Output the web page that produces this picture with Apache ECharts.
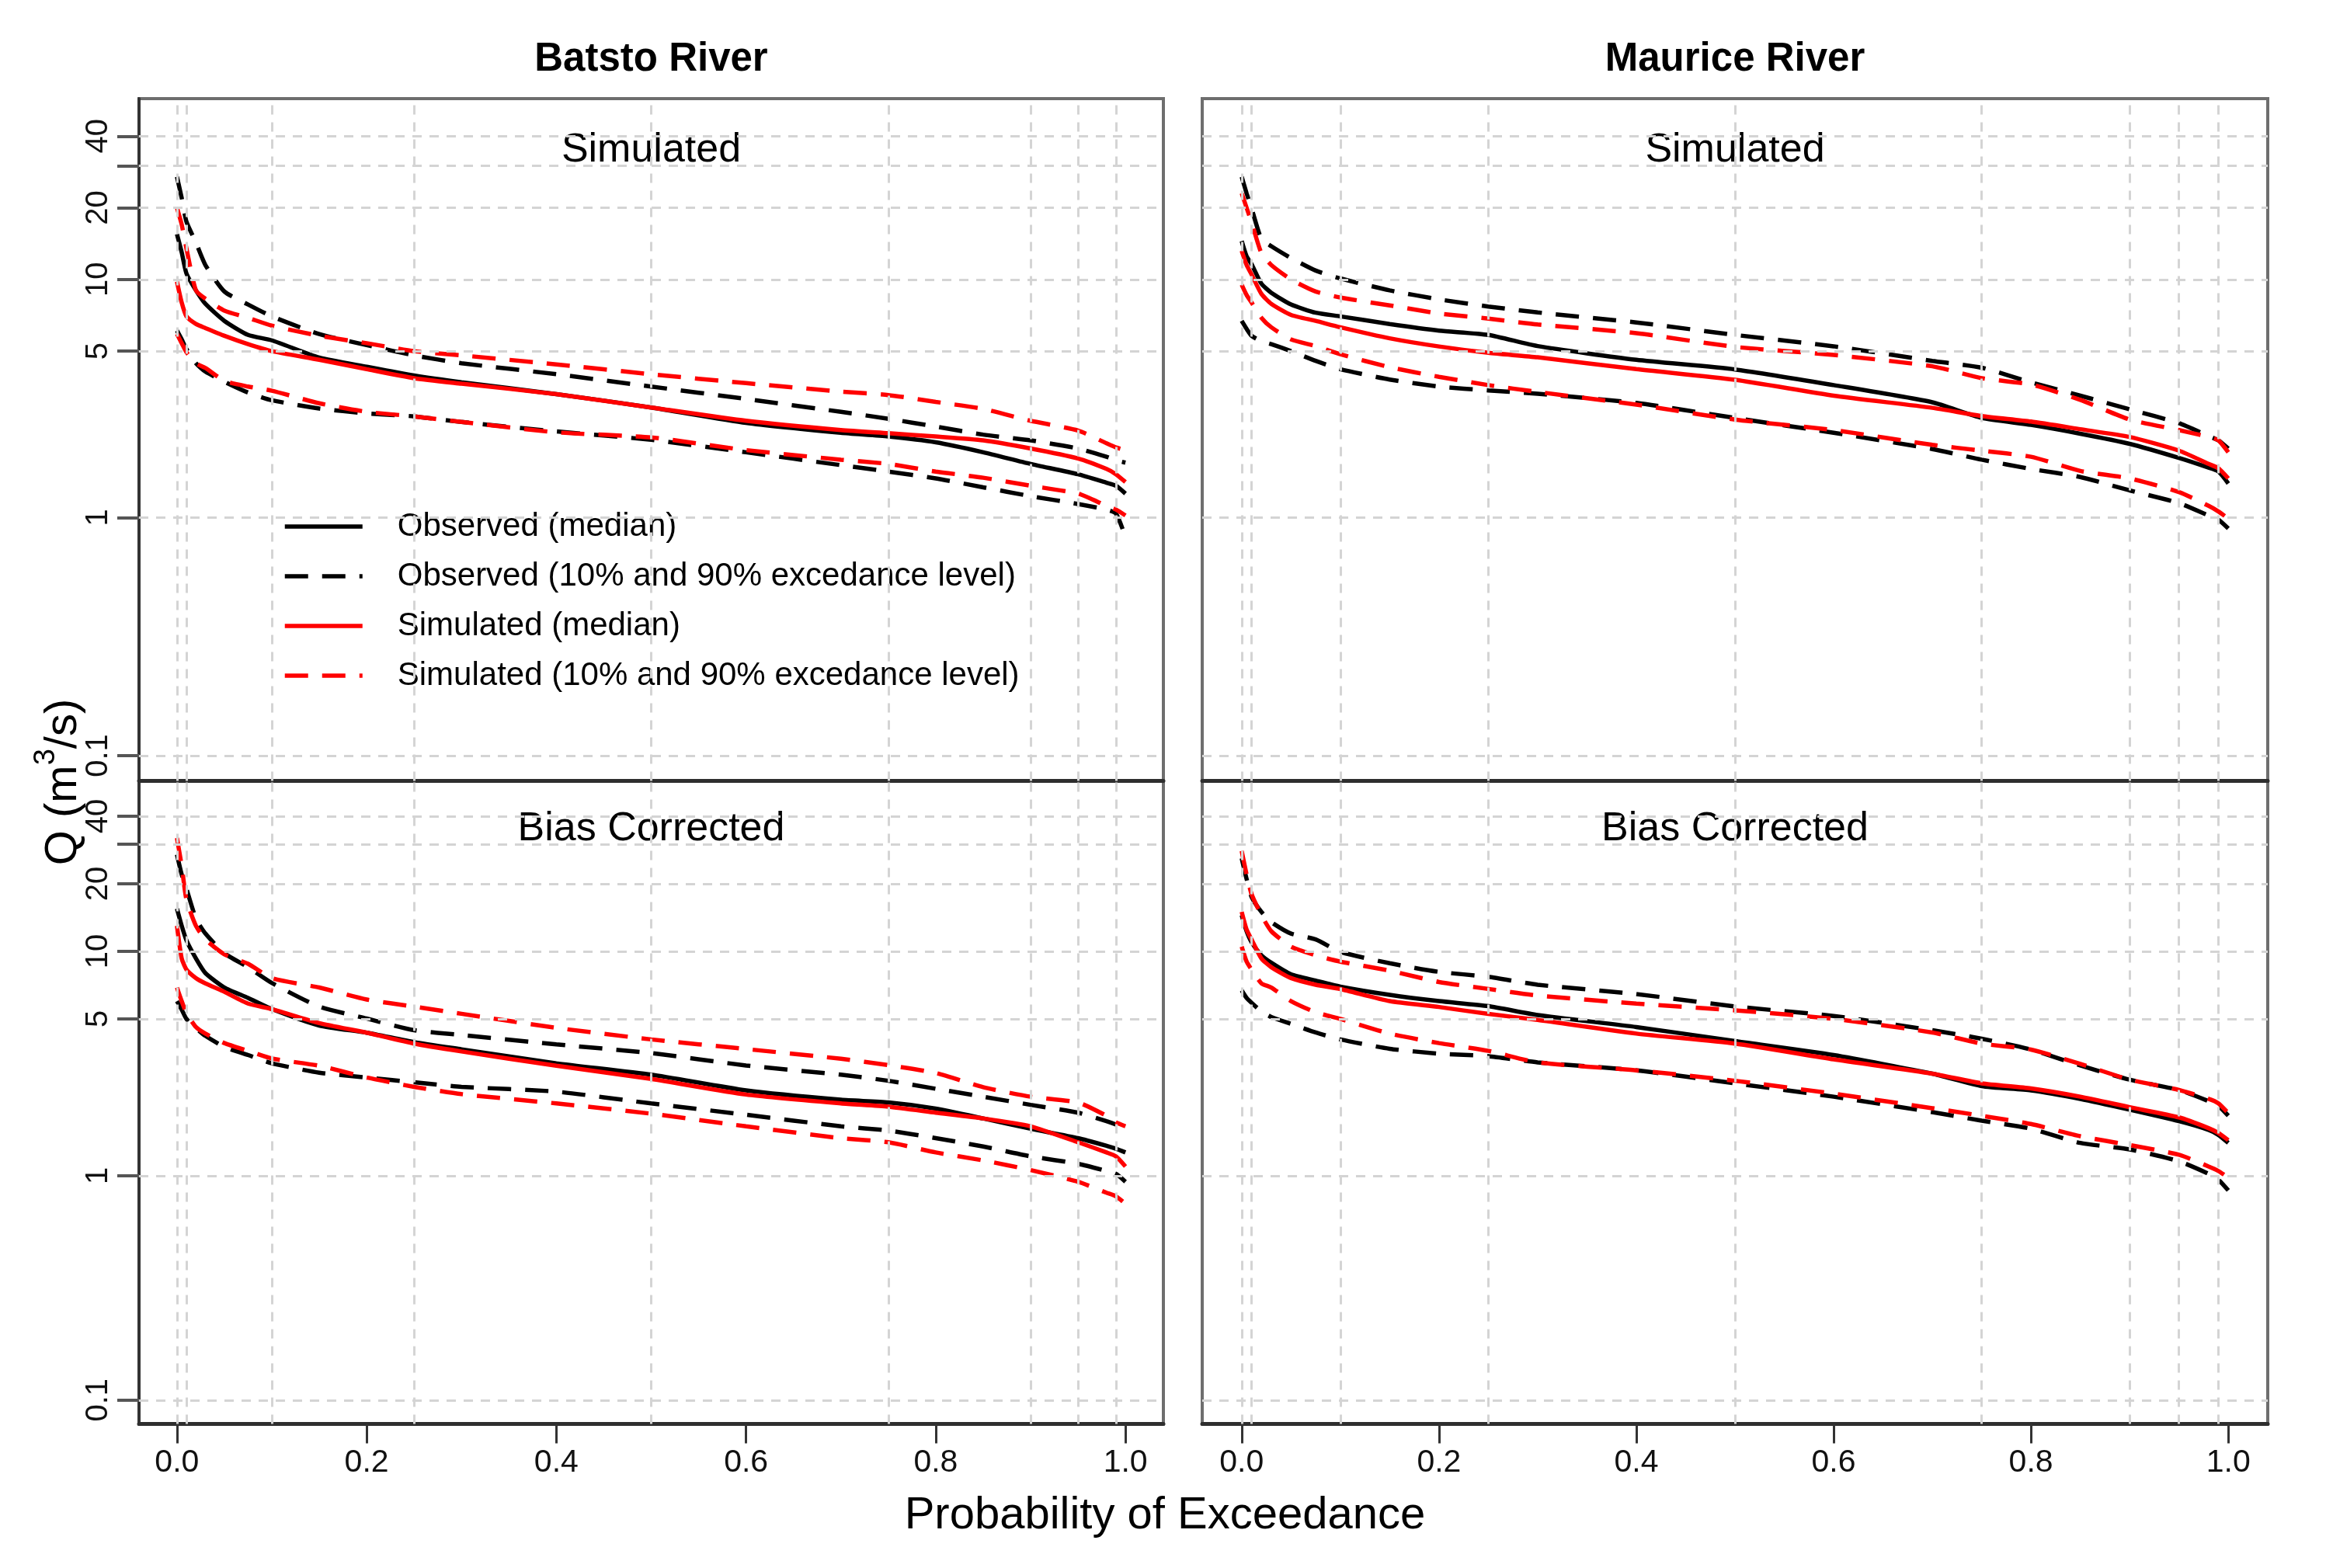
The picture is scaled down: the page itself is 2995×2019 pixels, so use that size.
<!DOCTYPE html>
<html><head><meta charset="utf-8">
<script src="https://cdn.jsdelivr.net/npm/echarts@6/dist/echarts.min.js"></script>
<style>html,body{margin:0;padding:0;background:#fff}#c{width:2995px;height:2019px}</style>
</head><body><div id="c"></div><script>
// Exceedance probabilities (x)
const P = [0, 0.005, 0.01, 0.02, 0.03, 0.05, 0.075, 0.1, 0.15, 0.2, 0.25, 0.3, 0.4, 0.5, 0.6, 0.7, 0.75, 0.8, 0.85, 0.9, 0.95, 0.98, 0.99, 1.0];

// Batsto River - Simulated
const batstoSimObsMed = [15.5, 13, 10.6, 9.0, 7.9, 6.7, 5.85, 5.55, 4.7, 4.3, 3.95, 3.7, 3.3, 2.9, 2.5, 2.27, 2.19, 2.07, 1.88, 1.68, 1.52, 1.40, 1.36, 1.26];
const batstoSimObsUp  = [27, 22, 17.5, 14.3, 11.5, 8.9, 7.85, 7.0, 5.9, 5.3, 4.8, 4.45, 4.0, 3.55, 3.15, 2.78, 2.6, 2.41, 2.23, 2.11, 1.95, 1.8, 1.74, 1.7];
const batstoSimObsLow = [6.1, 5.6, 5.1, 4.45, 4.1, 3.72, 3.35, 3.11, 2.87, 2.74, 2.66, 2.52, 2.3, 2.12, 1.88, 1.66, 1.56, 1.46, 1.34, 1.23, 1.14, 1.08, 1.04, 0.83];
const batstoSimSimMed = [9.8, 8.0, 7.0, 6.5, 6.25, 5.8, 5.35, 5.0, 4.6, 4.2, 3.85, 3.65, 3.3, 2.9, 2.55, 2.33, 2.26, 2.19, 2.11, 1.95, 1.77, 1.6, 1.52, 1.41];
const batstoSimSimUp  = [20, 17, 13.5, 9.0, 8.3, 7.4, 6.9, 6.4, 5.8, 5.4, 5.0, 4.8, 4.4, 4.0, 3.67, 3.38, 3.27, 3.06, 2.86, 2.55, 2.32, 2.05, 1.97, 1.92];
const batstoSimSimLow = [5.9, 5.4, 4.95, 4.45, 4.25, 3.75, 3.55, 3.41, 3.02, 2.78, 2.66, 2.52, 2.28, 2.17, 1.92, 1.75, 1.68, 1.56, 1.47, 1.36, 1.26, 1.12, 1.08, 1.02];

// Batsto River - Bias Corrected
const batstoBcObsMed = [15.5, 13, 11.2, 9.3, 8.0, 6.9, 6.2, 5.53, 4.67, 4.34, 3.94, 3.66, 3.17, 2.82, 2.4, 2.18, 2.12, 1.99, 1.8, 1.62, 1.47, 1.36, 1.32, 1.27];
const batstoBcObsUp  = [27, 22, 19, 14, 12, 9.8, 8.5, 7.23, 5.67, 5.02, 4.45, 4.24, 3.85, 3.52, 3.1, 2.82, 2.65, 2.44, 2.25, 2.07, 1.91, 1.75, 1.69, 1.62];
const batstoBcObsLow = [6.0, 5.5, 5.0, 4.55, 4.2, 3.75, 3.45, 3.17, 2.88, 2.74, 2.61, 2.49, 2.37, 2.1, 1.87, 1.66, 1.59, 1.47, 1.35, 1.22, 1.13, 1.05, 1.02, 0.94];
const batstoBcSimMed = [13, 9.3, 8.3, 7.6, 7.2, 6.6, 5.85, 5.53, 4.79, 4.34, 3.88, 3.58, 3.09, 2.7, 2.3, 2.1, 2.03, 1.91, 1.8, 1.66, 1.41, 1.27, 1.22, 1.10];
const batstoBcSimUp  = [32, 24, 17, 13, 11.3, 9.7, 8.8, 7.6, 6.9, 6.1, 5.67, 5.27, 4.56, 4.05, 3.67, 3.32, 3.11, 2.87, 2.48, 2.25, 2.12, 1.85, 1.73, 1.66];
const batstoBcSimLow = [6.9, 6.0, 5.3, 4.6, 4.3, 3.9, 3.6, 3.33, 3.09, 2.74, 2.49, 2.31, 2.1, 1.89, 1.66, 1.47, 1.41, 1.27, 1.17, 1.06, 0.94, 0.84, 0.81, 0.75];

// Maurice River - Simulated
const mauriceSimObsMed = [14.5, 12.5, 11.6, 9.6, 8.8, 7.85, 7.25, 7.0, 6.5, 6.1, 5.85, 5.25, 4.6, 4.19, 3.6, 3.05, 2.62, 2.45, 2.25, 2.04, 1.78, 1.62, 1.56, 1.39];
const mauriceSimObsUp  = [27, 23, 19.9, 14.8, 13.8, 12.3, 10.9, 10.1, 9.0, 8.25, 7.7, 7.27, 6.6, 5.85, 5.24, 4.55, 4.26, 3.7, 3.25, 2.85, 2.49, 2.2, 2.11, 1.95];
const mauriceSimObsLow = [6.7, 6.2, 5.8, 5.5, 5.35, 5.0, 4.55, 4.2, 3.8, 3.55, 3.42, 3.31, 3.03, 2.62, 2.27, 1.94, 1.75, 1.6, 1.48, 1.30, 1.15, 1.02, 0.98, 0.90];
const mauriceSimSimMed = [13.2, 11.5, 10.5, 8.7, 7.9, 7.1, 6.7, 6.3, 5.66, 5.23, 4.92, 4.71, 4.2, 3.79, 3.25, 2.89, 2.67, 2.53, 2.35, 2.18, 1.91, 1.68, 1.61, 1.46];
const mauriceSimSimUp  = [23, 20, 17.4, 12.9, 11.5, 10.0, 8.9, 8.4, 7.78, 7.2, 6.85, 6.47, 5.95, 5.21, 4.82, 4.32, 3.85, 3.62, 3.12, 2.58, 2.33, 2.18, 2.11, 1.88];
const mauriceSimSimLow = [9.5, 8.6, 8.0, 6.9, 6.3, 5.6, 5.25, 4.85, 4.28, 3.9, 3.6, 3.37, 2.98, 2.58, 2.33, 2.02, 1.91, 1.8, 1.57, 1.46, 1.28, 1.12, 1.06, 0.99];

// Maurice River - Bias Corrected
const mauriceBcObsMed = [14.5, 12.3, 11.0, 9.6, 8.9, 7.9, 7.4, 6.96, 6.4, 6.0, 5.7, 5.2, 4.6, 3.98, 3.45, 2.85, 2.51, 2.4, 2.2, 1.97, 1.75, 1.6, 1.52, 1.40];
const mauriceBcObsUp  = [26, 21, 17.5, 15, 13.5, 12.0, 11.3, 9.95, 8.85, 8.1, 7.7, 7.1, 6.45, 5.68, 5.15, 4.45, 4.08, 3.65, 3.1, 2.68, 2.41, 2.15, 2.05, 1.85];
const mauriceBcObsLow = [6.7, 6.2, 5.9, 5.4, 5.1, 4.75, 4.35, 4.05, 3.68, 3.5, 3.41, 3.2, 2.95, 2.58, 2.25, 1.92, 1.76, 1.62, 1.4, 1.31, 1.16, 1.02, 0.96, 0.86];
const mauriceBcSimMed = [15, 12.5, 11.3, 9.3, 8.5, 7.6, 7.1, 6.79, 6.0, 5.65, 5.26, 4.95, 4.3, 3.88, 3.3, 2.85, 2.58, 2.45, 2.25, 2.02, 1.82, 1.63, 1.55, 1.44];
const mauriceBcSimUp  = [28, 22, 18, 14.5, 12.3, 10.5, 9.6, 9.0, 8.2, 7.3, 6.8, 6.35, 5.85, 5.46, 5.0, 4.35, 3.88, 3.65, 3.15, 2.68, 2.41, 2.2, 2.1, 1.90];
const mauriceBcSimLow = [10.5, 9.0, 8.3, 7.2, 6.9, 6.0, 5.35, 5.0, 4.3, 3.9, 3.6, 3.2, 2.95, 2.65, 2.32, 2.0, 1.85, 1.7, 1.5, 1.37, 1.24, 1.1, 1.05, 0.98];

// Ticks / gridlines
const xTicks = [0, 0.2, 0.4, 0.6, 0.8, 1.0];
const xGridValues = [0, 0.01, 0.1, 0.25, 0.5, 0.75, 0.9, 0.95, 0.99];
const yTicks = [0.1, 1, 5, 10, 20, 30, 40];
const yTickLabels = [0.1, 1, 5, 10, 20, 40];
const yGridValues = [0.1, 1, 5, 10, 20, 30, 40];

const riverTitles = ['Batsto River', 'Maurice River'];
const panelLabels = ['Simulated', 'Bias Corrected'];
const legendNames = ['Observed (median)', 'Observed (10% and 90% excedance level)', 'Simulated (median)', 'Simulated (10% and 90% excedance level)'];
const xTitle = 'Probability of Exceedance';

const FONT = '"Liberation Sans", Arial, Helvetica, sans-serif';

// grid index: 0 top-left, 1 top-right, 2 bottom-left, 3 bottom-right
const panels = [
  {obsMed: batstoSimObsMed, obsUp: batstoSimObsUp, obsLow: batstoSimObsLow, simMed: batstoSimSimMed, simUp: batstoSimSimUp, simLow: batstoSimSimLow},
  {obsMed: mauriceSimObsMed, obsUp: mauriceSimObsUp, obsLow: mauriceSimObsLow, simMed: mauriceSimSimMed, simUp: mauriceSimSimUp, simLow: mauriceSimSimLow},
  {obsMed: batstoBcObsMed, obsUp: batstoBcObsUp, obsLow: batstoBcObsLow, simMed: batstoBcSimMed, simUp: batstoBcSimUp, simLow: batstoBcSimLow},
  {obsMed: mauriceBcObsMed, obsUp: mauriceBcObsUp, obsLow: mauriceBcObsLow, simMed: mauriceBcSimMed, simUp: mauriceBcSimUp, simLow: mauriceBcSimLow}
];

const L1 = 179, W1 = 1319, L2 = 1548, W2 = 1372;
const T1 = 127, H1 = 878.5, T2 = 1005.5, H2 = 828;
const grids = [
  {left: L1, top: T1, width: W1, height: H1},
  {left: L2, top: T1, width: W2, height: H1},
  {left: L1, top: T2, width: W1, height: H2},
  {left: L2, top: T2, width: W2, height: H2}
].map(g => Object.assign(g, {show: true, borderColor: '#6e6e6e', borderWidth: 4, backgroundColor: 'transparent', containLabel: false}));

const xAxes = [0,1,2,3].map(gi => {
  const bottom = gi >= 2;
  return {
    type: 'value', gridIndex: gi, min: -0.04, max: 1.04,
    splitLine: {show: false},
    axisLine: {show: true, onZero: false, lineStyle: {color: '#2e2e2e', width: 5}},
    axisTick: {show: bottom, length: 25, customValues: xTicks, lineStyle: {color: '#333', width: 3}},
    axisLabel: {show: bottom, customValues: xTicks, formatter: v => Number(v).toFixed(1),
      fontSize: 41, fontFamily: FONT, color: '#111', margin: 30}
  };
});
const yAxes = [0,1,2,3].map(gi => {
  const left = gi % 2 === 0;
  return {
    type: 'log', logBase: 10, gridIndex: gi, min: 0.0783, max: 57.5,
    splitLine: {show: false}, minorTick: {show: false}, minorSplitLine: {show: false},
    axisLine: {show: left, onZero: false, lineStyle: {color: '#333', width: 4}},
    axisTick: {show: left, length: 28, customValues: yTicks, lineStyle: {color: '#555', width: 4}},
    axisLabel: {show: left, customValues: yTickLabels, rotate: 90,
      formatter: v => String(Math.round(v * 10) / 10),
      fontSize: 40, fontFamily: FONT, color: '#111', margin: 32}
  };
});

const series = [];
[0,1,2,3].forEach(gi => {
  series.push({
    type: 'line', xAxisIndex: gi, yAxisIndex: gi, data: [[0.5, 1]], silent: true,
    showSymbol: false, symbol: 'none', lineStyle: {opacity: 0}, z: 1, animation: false,
    markLine: {
      silent: true, symbol: ['none', 'none'], label: {show: false}, animation: false,
      lineStyle: {color: '#d4d4d4', width: 3, type: [12, 10]},
      emphasis: {disabled: true},
      data: xGridValues.map(v => ({xAxis: v})).concat(yGridValues.map(v => ({yAxis: v})))
    }
  });
});
function mk(name, vals, gi, color, dashed) {
  return {
    type: 'line', name: name, xAxisIndex: gi, yAxisIndex: gi,
    data: P.map((p, i) => [p, vals[i]]),
    showSymbol: false, symbol: 'none', smooth: 0.2, silent: true, animation: false, z: 3,
    lineStyle: {color: color, width: 5.5, type: dashed ? [30, 18] : 'solid'},
    itemStyle: {color: color}
  };
}
panels.forEach((d, gi) => {
  series.push(mk(legendNames[0], d.obsMed, gi, '#000000', false));
  series.push(mk(legendNames[1], d.obsUp, gi, '#000000', true));
  series.push(mk(legendNames[1], d.obsLow, gi, '#000000', true));
  series.push(mk(legendNames[2], d.simMed, gi, '#ff0000', false));
  series.push(mk(legendNames[3], d.simUp, gi, '#ff0000', true));
  series.push(mk(legendNames[3], d.simLow, gi, '#ff0000', true));
});

const cx1 = L1 + W1 / 2, cx2 = L2 + W2 / 2;
const txt = (x, y, text, size, weight) => ({
  type: 'text', x: x, y: y, silent: true,
  style: {text: text, fontSize: size, fontWeight: weight || 'normal', fontFamily: FONT, fill: '#000', align: 'center', verticalAlign: 'middle'}
});
const graphic = [
  txt(cx1, 77, riverTitles[0], 51, 'bold'),
  txt(cx2, 77, riverTitles[1], 51, 'bold'),
  txt(cx1, 194, panelLabels[0], 52),
  txt(cx2, 194, panelLabels[0], 52),
  txt(cx1, 1068, panelLabels[1], 52),
  txt(cx2, 1068, panelLabels[1], 52),
  txt(1500, 1952, xTitle, 58),
  {
    type: 'text', x: 76, y: 1007, rotation: Math.PI / 2, silent: true,
    style: {
      text: '{a|Q (m}{b|3}{a|/s)}', align: 'center', verticalAlign: 'middle', fill: '#000',
      rich: {
        a: {fontSize: 58, fontFamily: FONT, lineHeight: 70, verticalAlign: 'bottom', fill: '#000'},
        b: {fontSize: 38, fontFamily: FONT, lineHeight: 40, verticalAlign: 'top', fill: '#000'}
      }
    }
  }
];

const chart = echarts.init(document.getElementById('c'), null, {renderer: 'canvas'});
chart.setOption({
  backgroundColor: '#ffffff',
  animation: false,
  grid: grids,
  xAxis: xAxes,
  yAxis: yAxes,
  legend: {
    orient: 'vertical', left: 359, top: 652, itemWidth: 100, itemHeight: 20, itemGap: 22,
    selectedMode: false,
    lineStyle: {width: 5.5},
    itemStyle: {color: 'transparent', borderColor: 'transparent', borderWidth: 0, opacity: 0},
    formatter: name => '{sp| }{t|' + name + '}',
    textStyle: {
      fontSize: 42, fontFamily: FONT, color: '#000',
      rich: {sp: {width: 40, fontSize: 42}, t: {fontSize: 42, fontFamily: FONT, color: '#000', lineHeight: 50}}
    },
    data: legendNames.map(n => ({name: n}))
  },
  series: series,
  graphic: graphic
});
</script></body></html>
